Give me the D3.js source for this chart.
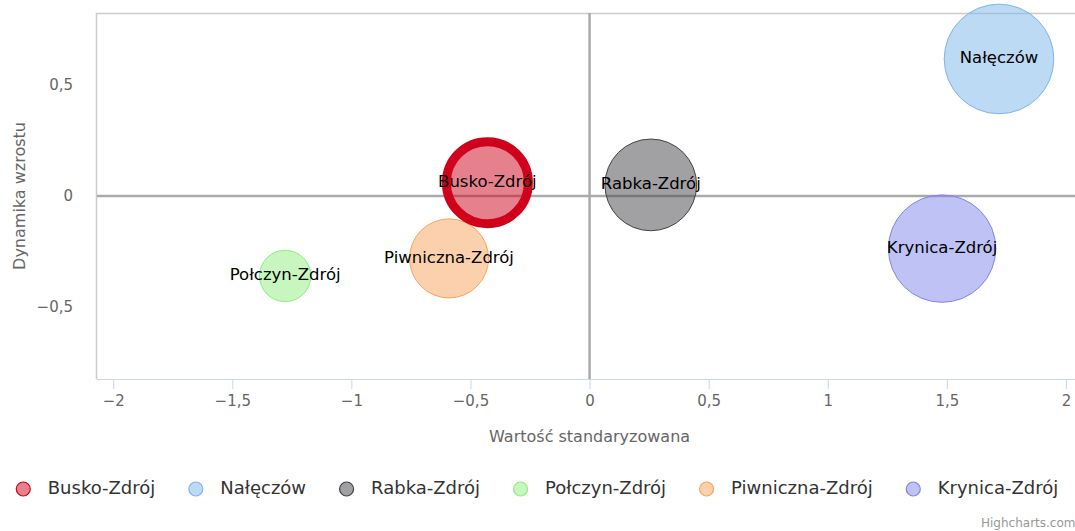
<!doctype html>
<html lang="pl">
<head>
<meta charset="utf-8">
<style>
  body { margin: 0; background: #fff; }
  svg { display: block; font-family: "DejaVu Sans", sans-serif; }
</style>
</head>
<body>
<div id="chart"></div>
<script src="https://d3js.org/d3.v7.min.js"></script>
<script>

// data
var towns   = ["Busko-Zdrój", "Nałęczów", "Rabka-Zdrój", "Połczyn-Zdrój", "Piwniczna-Zdrój", "Krynica-Zdrój"];
var xValues = [-0.429, 1.719, 0.257, -1.278, -0.590, 1.480];
var yValues = [0.06, 0.617, 0.05, -0.36, -0.281, -0.237];
var sizes   = [56, 100, 70, 22, 52, 96];
var xTicks  = [-2, -1.5, -1, -0.5, 0, 0.5, 1, 1.5, 2];
var yTicks  = [-0.5, 0, 0.5];

// styles
var colors  = ["#d0021b", "#7cb5ec", "#434348", "#90ed7d", "#f7a35c", "#8085e9"];
var strokeW = [9, 1, 1, 1, 1, 1];

var W = 1075, H = 531;
var pLeft = 97, pTop = 13, pRight = 1075, pBottom = 379;

var svg = d3.select("#chart").append("svg").attr("width", W).attr("height", H);

var x = d3.scaleLinear().domain([-2.068, 2.038]).range([pLeft, pRight]);
var y = d3.scaleLinear().domain([-0.824, 0.824]).range([pBottom, pTop]);
var r = d3.scaleSqrt().domain([0, 100]).range([0, 54.8]);

function fmt(v) {
	return String(v).replace(".", ",").replace("-", "\u2212");
}

// plot border (left + top)
svg.append("path")
	.attr("d", "M" + (pLeft - 0.5) + "," + pBottom + "V" + (pTop + 0.5) + "H" + (pRight + 5))
	.attr("fill", "none").attr("stroke", "#cccccc").attr("stroke-width", 1.5);

// x axis
var xAxis = svg.append("g").attr("transform", "translate(0," + pBottom + ")")
	.call(d3.axisBottom(x).tickValues(xTicks).tickFormat(fmt).tickSize(10).tickPadding(6));
xAxis.select(".domain").attr("stroke", "#ccd6eb").attr("d", "M" + pLeft + ",0.5H" + (pRight + 5));
xAxis.selectAll(".tick line").attr("stroke", "#ccd6eb");
xAxis.selectAll(".tick text").attr("fill", "#666").style("font-size", "15px")
	.style("font-family", "DejaVu Sans");

// y axis labels (no line, no ticks)
var yAxis = svg.append("g").attr("transform", "translate(" + pLeft + ",0)")
	.call(d3.axisLeft(y).tickValues(yTicks).tickFormat(fmt).tickSize(0).tickPadding(24));
yAxis.select(".domain").remove();
yAxis.selectAll(".tick text").attr("fill", "#666").style("font-size", "15px")
	.style("font-family", "DejaVu Sans");

// axis titles
svg.append("text").text("Wartość standaryzowana")
	.attr("x", x(0)).attr("y", 437).attr("text-anchor", "middle").attr("dominant-baseline", "middle")
	.attr("fill", "#666").style("font-size", "16px");
svg.append("text").text("Dynamika wzrostu")
	.attr("transform", "translate(20," + y(0) + ") rotate(-90)")
	.attr("text-anchor", "middle").attr("dominant-baseline", "middle")
	.attr("fill", "#666").style("font-size", "16px");

// zero plot lines
svg.append("line").attr("x1", x(0)).attr("x2", x(0)).attr("y1", pTop).attr("y2", pBottom)
	.attr("stroke", "#aaaaaa").attr("stroke-width", 2.5);
svg.append("line").attr("x1", pLeft).attr("x2", pRight + 5).attr("y1", y(0)).attr("y2", y(0))
	.attr("stroke", "#aaaaaa").attr("stroke-width", 2.5);

// bubbles; the highlighted one (thick ring) on top
var data = towns.map(function(t, i) {
	return {name: t, x: xValues[i], y: yValues[i], z: sizes[i], color: colors[i], sw: strokeW[i]};
});
var order = data.slice().sort(function(a, b) { return a.sw - b.sw; });

svg.append("g").selectAll("circle").data(order).enter().append("circle")
	.attr("cx", function(d) { return x(d.x); })
	.attr("cy", function(d) { return y(d.y); })
	.attr("r", function(d) { return r(d.z); })
	.attr("fill", function(d) { return d.color; }).attr("fill-opacity", 0.5)
	.attr("stroke", function(d) { return d.color; }).attr("stroke-width", function(d) { return d.sw; });

svg.append("g").selectAll("text").data(data).enter().append("text")
	.text(function(d) { return d.name; })
	.attr("x", function(d) { return x(d.x); })
	.attr("y", function(d) { return y(d.y); })
	.attr("text-anchor", "middle").attr("dominant-baseline", "middle")
	.attr("fill", "#000").style("font-size", "16.5px");

// legend
var legend = svg.append("g").attr("transform", "translate(0,489)");
var items = legend.selectAll("g").data(data).enter().append("g");
items.append("circle").attr("cx", 7.5).attr("cy", 0).attr("r", 7)
	.attr("fill", function(d) { return d.color; }).attr("fill-opacity", 0.5)
	.attr("stroke", function(d) { return d.color; }).attr("stroke-width", 1.2);
items.append("text").text(function(d) { return d.name; })
	.attr("x", 32).attr("y", 0).attr("dominant-baseline", "middle")
	.attr("fill", "#333").style("font-size", "18px");

var gap = 33, pos = 0, starts = [];
items.each(function() {
	starts.push(pos);
	pos += 32 + d3.select(this).select("text").node().getComputedTextLength() + gap;
});
var total = pos - gap;
var x0 = 537 - total / 2;
items.attr("transform", function(d, i) { return "translate(" + (x0 + starts[i]) + ",0)"; });

// credit
svg.append("text").text("Highcharts.com")
	.attr("x", 981).attr("y", 523).attr("dominant-baseline", "middle")
	.attr("fill", "#999").style("font-size", "12px");

</script>
</body>
</html>
